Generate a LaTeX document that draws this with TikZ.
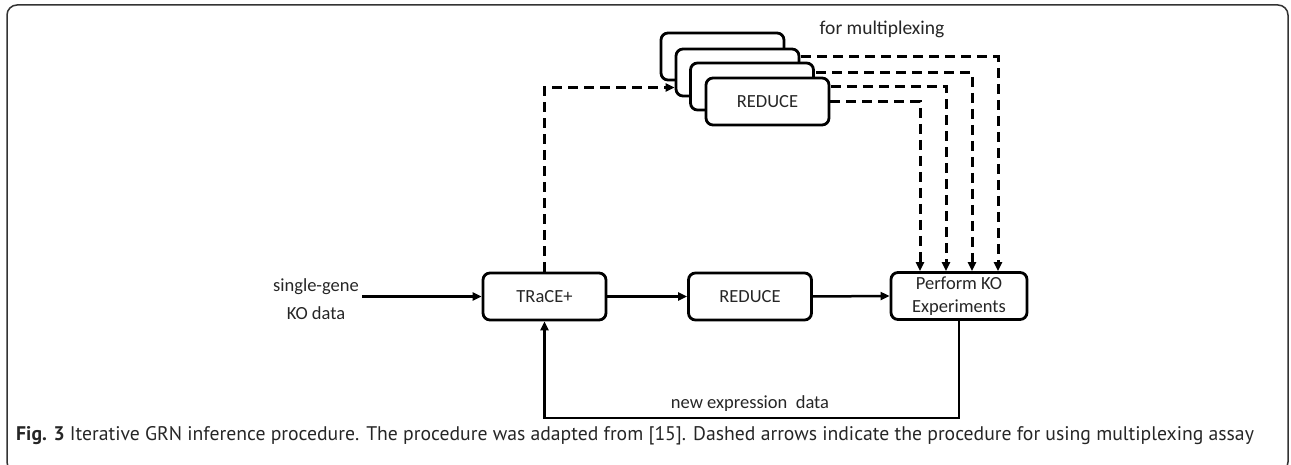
\documentclass[tikz,border=0pt]{standalone}
\usepackage{fontspec}
\setmainfont{Carlito}
\newfontfamily\capfont{PT Sans}
\usetikzlibrary{arrows.meta}
\pgfdeclarelayer{bg}
\pgfsetlayers{bg,main}
\begin{document}
\begin{tikzpicture}[x=1pt,y=-1pt,
  box/.style={draw, line width=2.8pt, rounded corners=7pt, minimum width=123pt,
    minimum height=47pt, inner sep=0pt, fill=white,
    font=\fontsize{18.5}{23}\selectfont, align=center, text=black!85},
  arr/.style={line width=2.5pt, -{Triangle[length=9pt,width=8pt]}},
  darr/.style={arr, line width=3pt, dash pattern=on 10pt off 6pt},
  lbl/.style={font=\fontsize{18.5}{28}\selectfont, align=center, inner sep=0pt, text=black!85}]
\useasboundingbox (0,0) rectangle (1291,465);
\clip (0,0) rectangle (1291,465);
\draw[line width=1.5pt, black!80, rounded corners=10pt] (7,5) rectangle (1288,472);

% main row
\node[box] (trace) at (544.5,296.5) {TRaCE+};
\node[box] (red) at (750,296.5) {REDUCE};
\node[box, minimum width=136pt] (ko) at (959,296) {Perform KO\\Experiments};

% stacked REDUCE boxes
\node[box] (b1) at (722.5,56.5) {};
\node[box] (b2) at (737.5,72.5) {};
\node[box] (b3) at (752,86.5) {};
\node[box] (b4) at (767.5,101.5) {REDUCE};

% labels
\node[lbl] (in) at (316,299) {single-gene\\KO data};
\coordinate (start) at (362,296.5);
\node[lbl, font=\fontsize{19.5}{24}\selectfont] (fm) at (882,29) {for multiplexing};
\node[lbl] (nd) at (750,404) {new expression\ \ data};

% connectors
\draw[arr] (start) -- (trace.west);
\draw[arr] (trace.east) -- (red.west);
\draw[arr] (red.east) -- (ko.west);
\draw[arr] (ko.south) -- ++(0,97) -| (trace.south);
\draw[darr] (trace.north) |- ([yshift=-15pt]b2.west);
\begin{pgfonlayer}{bg}
\draw[darr] (b1.east) -| ([xshift=39pt]ko.north);
\draw[darr] (b2.east) -| ([xshift=13pt]ko.north);
\draw[darr] (b3.east) -| ([xshift=-13pt]ko.north);
\draw[darr] (b4.east) -| ([xshift=-39pt]ko.north);
\end{pgfonlayer}

% caption
\node[anchor=west, inner sep=0pt, text=black!85, font=\capfont\fontsize{19.7}{24}\selectfont] (cap) at (16,436)
  {\textbf{Fig. 3} Iterative GRN inference procedure. The procedure was adapted from [15]. Dashed arrows indicate the procedure for using multiplexing assay};
\end{tikzpicture}
\end{document}
